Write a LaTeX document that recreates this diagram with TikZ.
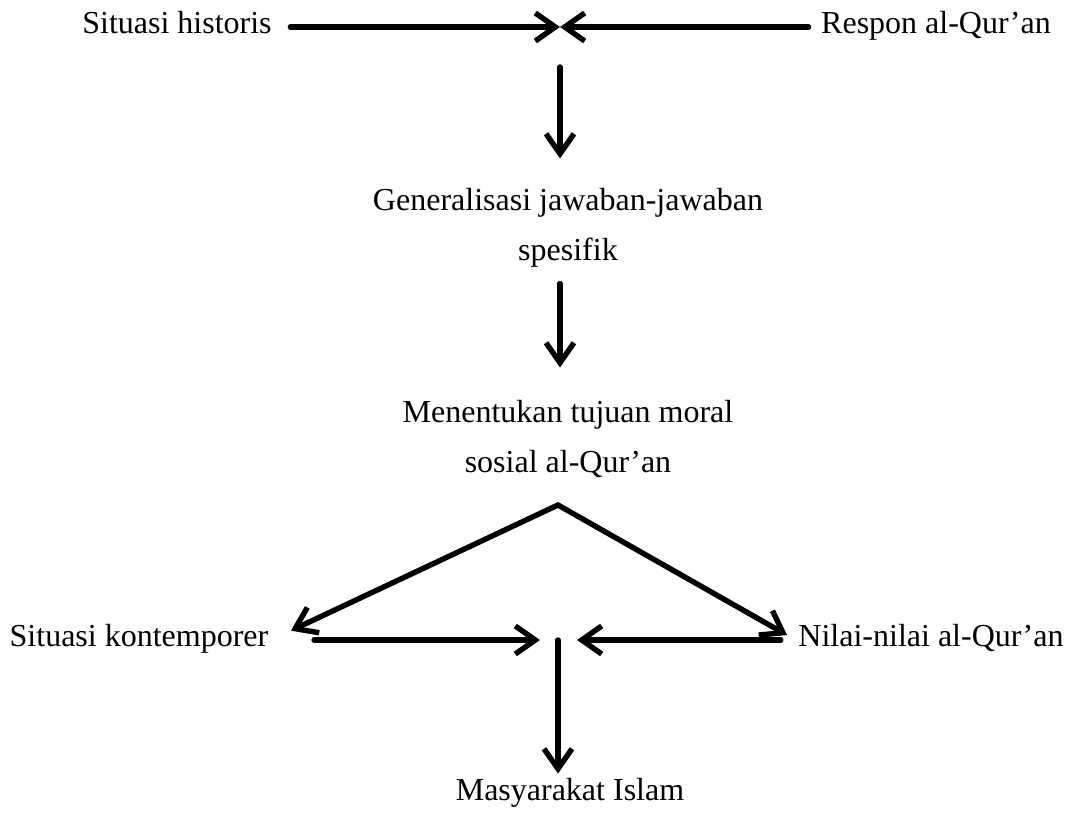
\documentclass[tikz,border=0pt]{standalone}
\usepackage{fontspec}
\setmainfont{Liberation Serif}
\usepackage{tikz}
\usetikzlibrary{arrows.meta}

\begin{document}
\begin{tikzpicture}[x=0.5pt,y=-0.5pt,->,>={Straight Barb[length=10pt,width=14pt]},
  line width=2.7pt,line cap=round,line join=round,node distance=25pt,
  text node/.style={font=\fontsize{16}{19}\selectfont,inner sep=0pt,
        text height=0.68em,text depth=0pt}]
  \useasboundingbox (0,0) rectangle (1073,819);

  \node[text node] (hist) at (177,27) {Situasi historis};
  \node[text node] (resp) at (936,27) {Respon al-Qur’an};
  \node[text node] (gen)  at (568,204) {Generalisasi jawaban-jawaban};
  \node[text node] (spes) [below of=gen] {spesifik};
  \node[text node] (ment) at (568,416) {Menentukan tujuan moral};
  \node[text node] (sos)  [below of=ment] {sosial al-Qur’an};
  \node[text node] (kont) at (139,640) {Situasi kontemporer};
  \node[text node] (nil)  at (931,640) {Nilai-nilai al-Qur’an};
  \node[text node] (masy) at (570,794) {Masyarakat Islam};

  \coordinate (meet) at (560,27);
  \coordinate (apex) at (558,505);
  \coordinate (join) at (558,640);

  % top row
  \draw[shorten <=8pt] (hist) -- (meet);
  \draw[shorten <=5pt] (resp) -- (meet);
  \draw[shorten <=20pt,shorten >=18pt] (meet) -- (meet |- gen.north);
  \draw[shorten <=10pt,shorten >=19.5pt] (spes.south -| meet) -- (ment.north -| meet);

  % split and join
  \draw[shorten >=11pt] (apex) -- (kont.east);
  \draw[shorten >=5pt] (apex) -- (nil.west);
  \draw[shorten <=21.5pt,shorten >=9pt] (kont.east) -- (join);
  \draw[shorten <=7.5pt,shorten >=9.5pt] (nil.west) -- (join);
  \draw[shorten >=5.5pt] (join) -- (join |- masy.north);
\end{tikzpicture}
\end{document}
